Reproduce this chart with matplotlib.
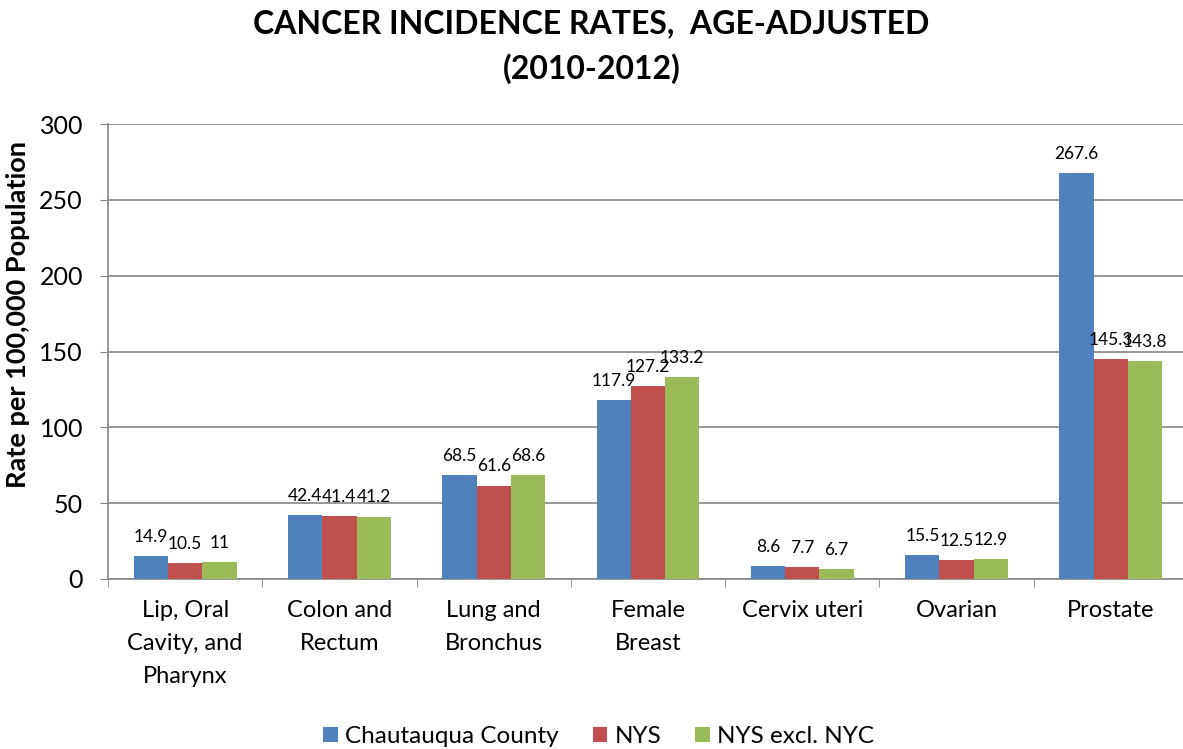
import numpy as np
import matplotlib.pyplot as plt

plt.rcParams['font.family'] = ['Lato', 'DejaVu Sans']

categories = ['Lip, Oral\nCavity, and\nPharynx', 'Colon and\nRectum', 'Lung and\nBronchus',
              'Female\nBreast', 'Cervix uteri', 'Ovarian', 'Prostate']
series_names = ['Chautauqua County', 'NYS', 'NYS excl. NYC']
chautauqua = [14.9, 42.4, 68.5, 117.9, 8.6, 15.5, 267.6]
nys = [10.5, 41.4, 61.6, 127.2, 7.7, 12.5, 145.3]
nys_excl_nyc = [11, 41.2, 68.6, 133.2, 6.7, 12.9, 143.8]
colors = ['#4F81BD', '#C0504D', '#9BBB59']

fig = plt.figure(figsize=(11.83, 7.49), dpi=100)
# axes runs slightly past the right edge, like the original
ax = fig.add_axes([108 / 1183, 1 - 579 / 749, (1188 - 108) / 1183, (579 - 124) / 749])

x = np.arange(len(categories))
w = 0.222
for i, (vals, name) in enumerate(zip([chautauqua, nys, nys_excl_nyc], series_names)):
    pos = x + (i - 1) * w
    ax.bar(pos, vals, w, color=colors[i], label=name, zorder=3)
    for p, v in zip(pos, vals):
        ax.annotate(f'{v:g}', (p, v), xytext=(0, 8), textcoords='offset points',
                    ha='center', va='bottom', fontsize=12.5)

ax.set_xlim(-0.5, len(categories) - 0.5)
ax.set_ylim(0, 300)
ax.set_yticks(range(0, 301, 50))
ax.tick_params(axis='y', labelsize=18, length=6, color='#868686', pad=12)
ax.set_xticks(x)
ax.set_xticklabels(categories, fontsize=17, va='top', linespacing=1.72)
ax.tick_params(axis='x', length=0, pad=15)
ax.set_xticks(np.arange(-0.5, len(categories), 1), minor=True)
ax.tick_params(axis='x', which='minor', length=6, color='#868686')
ax.grid(axis='y', color='#868686', linewidth=1.2, zorder=0)
for s in ['top', 'right']:
    ax.spines[s].set_visible(False)
for s in ['left', 'bottom']:
    ax.spines[s].set_color('#868686')
    ax.spines[s].set_linewidth(1.2)

fig.text(18 / 1183, 1 - 315 / 749, 'Rate per 100,000 Population', rotation=90,
         ha='center', va='center', fontsize=19.5, fontweight='bold')
fig.suptitle('CANCER INCIDENCE RATES,  AGE-ADJUSTED\n(2010-2012)', fontsize=23,
             fontweight='bold', y=0.987, linespacing=1.55)

fig.legend(loc='lower center', ncol=3, fontsize=17.5, frameon=False,
           bbox_to_anchor=(0.506, -0.027), handlelength=0.6, handleheight=0.6,
           columnspacing=1.4, handletextpad=0.3)

fig.savefig('out.png', dpi=100)
